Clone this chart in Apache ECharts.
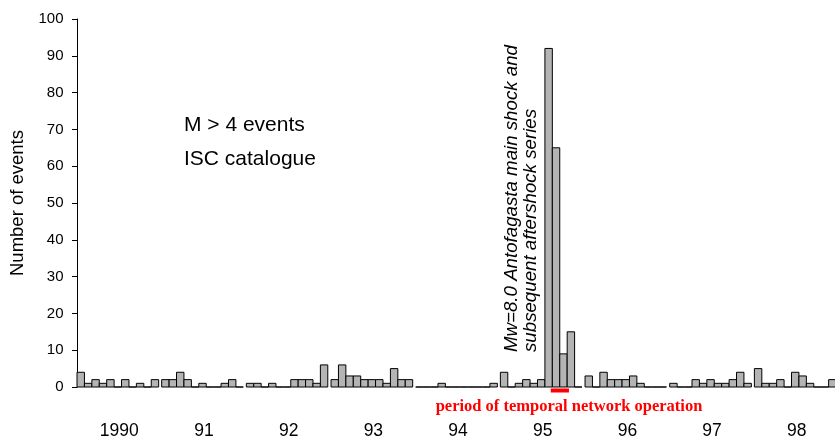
<!DOCTYPE html>
<html>
<head>
<meta charset="utf-8">
<script src="https://cdn.jsdelivr.net/npm/echarts@6/dist/echarts.min.js"></script>
<style>
  html, body { margin: 0; padding: 0; background: #fff; }
  #chart { width: 835px; height: 440px; }
</style>
</head>
<body>
<div id="chart"></div>
<script>
// Event counts (M > 4, ISC catalogue) in 32-day bins starting each 1 January
const BIN_DAYS = 32;
const years = [1990, 1991, 1992, 1993, 1994, 1995, 1996, 1997, 1998];
const yearLabels = ['1990', '91', '92', '93', '94', '95', '96', '97', '98'];
const counts1990 = [4, 1, 2, 1, 2, 0, 2, 0, 1, 0, 2];
const counts1991 = [2, 2, 4, 2, 0, 1, 0, 0, 1, 2, 0];
const counts1992 = [1, 1, 0, 1, 0, 0, 2, 2, 2, 1, 6];
const counts1993 = [2, 6, 3, 3, 2, 2, 2, 1, 5, 2, 2];
const counts1994 = [0, 0, 0, 1, 0, 0, 0, 0, 0, 0, 1];
const counts1995 = [4, 0, 1, 2, 1, 2, 92, 65, 9, 15, 0];
const counts1996 = [3, 0, 4, 2, 2, 2, 3, 1, 0, 0, 0];
const counts1997 = [1, 0, 0, 2, 1, 2, 1, 1, 2, 4, 1];
const counts1998 = [5, 1, 1, 2, 0, 4, 3, 1, 0, 0, 2];
const countsByYear = [counts1990, counts1991, counts1992, counts1993, counts1994,
                      counts1995, counts1996, counts1997, counts1998];
// Temporal network operation (decimal years)
const networkPeriod = [1995.595, 1995.81];

const yTicks = { min: 0, max: 100, interval: 10 };
// Visible time window (decimal years); the last year runs past the right edge
const timeMin = 1990;
const timeMax = 1998.952;

function daysInYear(y) { return (y % 4 === 0 && (y % 100 !== 0 || y % 400 === 0)) ? 366 : 365; }

// [binStart, binEnd, count] in decimal years
const binData = [];
years.forEach(function (y, i) {
  const nd = daysInYear(y);
  countsByYear[i].forEach(function (c, k) {
    binData.push([y + (k * BIN_DAYS) / nd, y + ((k + 1) * BIN_DAYS) / nd, c]);
  });
});

const chart = echarts.init(document.getElementById('chart'), null, { renderer: 'canvas' });

const font = 'Liberation Sans, Arial, sans-serif';

chart.setOption({
  animation: false,
  backgroundColor: '#ffffff',
  grid: { left: 77, top: 19, height: 370, right: 0, containLabel: false },
  xAxis: [
    {
      type: 'value', min: timeMin, max: timeMax,
      show: false
    },
    {
      // same scale shifted half a year, so year names sit mid-year
      type: 'value', min: timeMin - 0.5, max: timeMax - 0.5, interval: 0.5,
      position: 'bottom',
      axisLine: { show: false }, axisTick: { show: false }, splitLine: { show: false },
      axisLabel: {
        color: '#000', fontFamily: font, fontSize: 17.5, margin: 35,
        showMinLabel: true, showMaxLabel: false,
        formatter: function (v) {
          const i = Math.round(v) - years[0];
          return (Math.abs(v - Math.round(v)) < 1e-6 && i >= 0 && i < yearLabels.length) ? yearLabels[i] : '';
        }
      }
    }
  ],
  yAxis: {
    type: 'value', min: yTicks.min, max: yTicks.max, interval: yTicks.interval,
    name: 'Number of events', nameLocation: 'middle', nameGap: 50,
    nameTextStyle: { color: '#000', fontFamily: font, fontSize: 18.5 },
    axisLine: { show: true, lineStyle: { color: '#000', width: 1 } },
    axisTick: { show: true, inside: false, length: 5, lineStyle: { color: '#000' } },
    axisLabel: { color: '#000', fontFamily: font, fontSize: 15, margin: 13.5 },
    splitLine: { show: false }
  },
  series: [
    {
      type: 'custom',
      xAxisIndex: 0,
      data: binData,
      encode: { x: [0, 1], y: 2 },
      renderItem: function (params, api) {
        const top = api.coord([api.value(0), api.value(2)]);
        const base = api.coord([api.value(1), 0]);
        return {
          type: 'rect',
          shape: { x: top[0], y: top[1], width: base[0] - top[0], height: base[1] - top[1] },
          style: { fill: '#b4b4b4', stroke: '#000', lineWidth: 1 }
        };
      }
    },
    {
      type: 'custom',
      xAxisIndex: 0,
      data: [networkPeriod],
      encode: { x: [0, 1] },
      clip: false,
      renderItem: function (params, api) {
        const a = api.coord([api.value(0), 0]);
        const b = api.coord([api.value(1), 0]);
        return {
          type: 'rect',
          shape: { x: a[0], y: a[1] + 1.5, width: b[0] - a[0], height: 4 },
          style: { fill: '#ff0000' }
        };
      }
    }
  ],
  graphic: [
    { type: 'text', left: 184, top: 115,
      style: { text: 'M > 4 events', fill: '#000', font: '21px ' + font } },
    { type: 'text', left: 184, top: 149,
      style: { text: 'ISC catalogue', fill: '#000', font: '21px ' + font } },
    { type: 'text', x: 512, y: 352, rotation: Math.PI / 2,
      style: { text: 'Mw=8.0 Antofagasta main shock and', fill: '#000',
               font: 'italic 18.7px ' + font, align: 'left', verticalAlign: 'middle' } },
    { type: 'text', x: 531, y: 352, rotation: Math.PI / 2,
      style: { text: 'subsequent aftershock series', fill: '#000',
               font: 'italic 18.7px ' + font, align: 'left', verticalAlign: 'middle' } },
    { type: 'text', x: 569, y: 407,
      style: { text: 'period of temporal network operation', fill: '#ff0000',
               font: 'bold 16.5px Liberation Serif, Times New Roman, serif',
               align: 'center', verticalAlign: 'middle' } }
  ]
});
</script>
</body>
</html>
